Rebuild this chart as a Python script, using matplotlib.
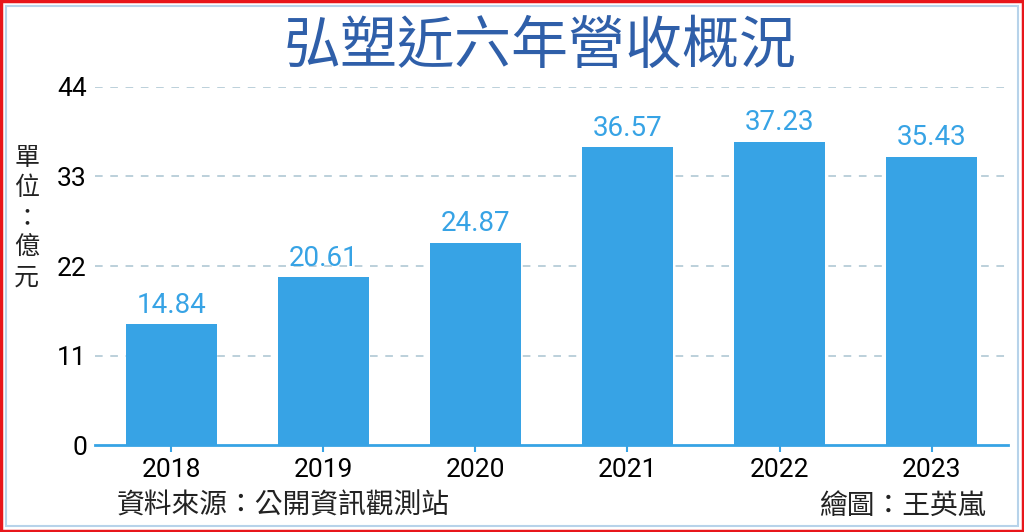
import matplotlib
matplotlib.use("Agg")
import matplotlib.pyplot as plt
from matplotlib.patches import Rectangle

plt.rcParams['font.family'] = ['Noto Sans CJK TC', 'DejaVu Sans']

years = ["2018", "2019", "2020", "2021", "2022", "2023"]
revenue = [14.84, 20.61, 24.87, 36.57, 37.23, 35.43]
yticks = [0, 11, 22, 33, 44]

bar_color = "#37a3e5"
title_color = "#2f5fa9"
num_font = ["Roboto", "DejaVu Sans"]

fig = plt.figure(figsize=(10.24, 5.32), dpi=100)
ax = fig.add_axes([0.093, 0.1635, 0.891, 0.673])

x = range(len(years))
ax.bar(x, revenue, width=0.6, color=bar_color, zorder=3)
for i, v in zip(x, revenue):
    ax.text(i, v + 0.7, f"{v:.2f}", ha="center", va="bottom",
            fontsize=20, color=bar_color, family=num_font)

ax.set_xlim(-0.5, 5.5)
ax.set_ylim(0, 44)
ax.set_yticks(yticks)
ax.set_xticks(list(x))
ax.set_xticklabels(years, fontsize=19, family=num_font)
ax.set_yticklabels([str(t) for t in yticks], fontsize=19, family=num_font)

for t in yticks[1:]:
    ax.axhline(t, color="#a9c4d1", linestyle=(0, (5, 5)), linewidth=1.1, zorder=1)

for s in ["top", "right", "left"]:
    ax.spines[s].set_visible(False)
ax.spines["bottom"].set_color(bar_color)
ax.spines["bottom"].set_linewidth(2)
ax.spines["bottom"].set_zorder(4)
ax.tick_params(axis="y", length=0, pad=6)
ax.tick_params(axis="x", length=5, width=1.5, color=bar_color, pad=4)

fig.text(0.527, 0.912, "弘塑近六年營收概況", ha="center", va="center",
         fontsize=41, fontweight="medium", color=title_color)

ylab = ["單", "位", "：", "億", "元"]
for k, ch in enumerate(ylab):
    fig.text(0.026, 1 - (158 + k * 30) / 532, ch, ha="center", va="center",
             fontsize=18, color="#222222")

fig.text(0.114, 0.049, "資料來源：公開資訊觀測站", ha="left", va="center",
         fontsize=20, color="#222222")
fig.text(0.962, 0.049, "繪圖：王英嵐", ha="right", va="center",
         fontsize=20, color="#222222")

# borders
fig.patches.append(Rectangle((0.006, 0.011), 0.988, 0.978, transform=fig.transFigure,
                             fill=False, edgecolor="#b7d3ea", linewidth=1.5))
fig.patches.append(Rectangle((0.001, 0.002), 0.998, 0.996, transform=fig.transFigure,
                             fill=False, edgecolor="#e8161b", linewidth=2.5))

fig.savefig("out.png", dpi=100)
